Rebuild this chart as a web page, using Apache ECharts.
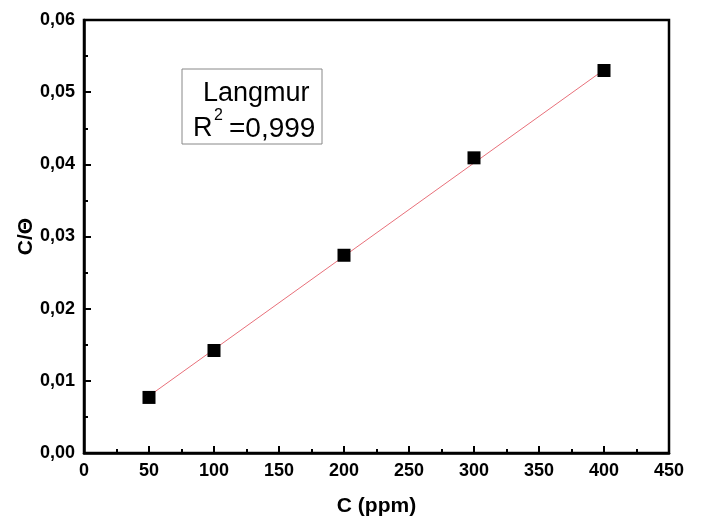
<!DOCTYPE html>
<html>
<head>
<meta charset="UTF-8">
<title>Langmuir</title>
<script src="https://cdn.jsdelivr.net/npm/echarts@6/dist/echarts.min.js"></script>
<style>
  html, body { margin: 0; padding: 0; background: #fff; }
  #chart { width: 701px; height: 519px; }
</style>
</head>
<body>
<div id="chart"></div>
<script>
// concentrations (ppm) and C/theta values
const concentrations = [50, 100, 200, 300, 400];
const cOverTheta = [0.0077, 0.0142, 0.0274, 0.0409, 0.0530];
// end points of the fitted line
const fitX = [50, 400];
const fitY = [0.0079, 0.0531];

const comma = (v, d) => v.toFixed(d).replace('.', ',');
const font = '"Liberation Sans", Arial, sans-serif';

const chart = echarts.init(document.getElementById('chart'));

chart.setOption({
  animation: false,
  grid: {
    left: 84, right: 32, top: 20, bottom: 66,
    outerBoundsMode: 'none', containLabel: false,
    show: true, borderColor: '#000', borderWidth: 2.5
  },
  xAxis: {
    type: 'value', min: 0, max: 450, interval: 50,
    name: 'C (ppm)', nameLocation: 'middle', nameGap: 43,
    nameTextStyle: { fontFamily: font, fontWeight: 'bold', fontSize: 21, color: '#000' },
    axisLine: { lineStyle: { color: '#000', width: 2.5 } },
    axisTick: { inside: true, length: 7, lineStyle: { color: '#000', width: 2 } },
    minorTick: { show: true, splitNumber: 2, length: 4, lineStyle: { color: '#000', width: 2 } },
    splitLine: { show: false },
    axisLabel: { fontFamily: font, fontWeight: 'bold', fontSize: 18, color: '#000', margin: 9 }
  },
  yAxis: {
    type: 'value', min: 0, max: 0.06, interval: 0.01,
    name: 'C/Θ', nameLocation: 'middle', nameGap: 47, nameMoveOverlap: false,
    nameTextStyle: { fontFamily: font, fontWeight: 'bold', fontSize: 21, color: '#000' },
    axisLine: { show: true, lineStyle: { color: '#000', width: 2.5 } },
    axisTick: { show: true, inside: true, length: 7, lineStyle: { color: '#000', width: 2 } },
    minorTick: { show: true, splitNumber: 2, length: 4, lineStyle: { color: '#000', width: 2 } },
    splitLine: { show: false },
    axisLabel: { fontFamily: font, fontWeight: 'bold', fontSize: 18, color: '#000', margin: 9,
      formatter: v => comma(v, 2) }
  },
  series: [
    {
      type: 'line',
      data: fitX.map((x, i) => [x, fitY[i]]),
      showSymbol: false,
      lineStyle: { color: '#e8707a', width: 1 },
      z: 1
    },
    {
      type: 'scatter',
      data: concentrations.map((x, i) => [x, cOverTheta[i]]),
      symbol: 'rect',
      symbolSize: 13,
      itemStyle: { color: '#000', opacity: 1 },
      z: 2
    }
  ],
  graphic: [
    {
      type: 'rect',
      shape: { x: 182, y: 69, width: 140, height: 75 },
      style: { fill: '#fff', stroke: '#888', lineWidth: 1 }
    },
    {
      type: 'text', x: 203, y: 94,
      style: { text: 'Langmur', fontFamily: font, fontSize: 27, fill: '#000',
        align: 'left', verticalAlign: 'middle' }
    },
    {
      type: 'text', x: 193, y: 129,
      style: { text: 'R', fontFamily: font, fontSize: 27, fill: '#000',
        align: 'left', verticalAlign: 'middle' }
    },
    {
      type: 'text', x: 214, y: 115.5,
      style: { text: '2', fontFamily: font, fontSize: 16, fill: '#000',
        align: 'left', verticalAlign: 'middle' }
    },
    {
      type: 'text', x: 229, y: 129,
      style: { text: '=0,999', fontFamily: font, fontSize: 28, fill: '#000',
        align: 'left', verticalAlign: 'middle' }
    }
  ]
});
</script>
</body>
</html>
